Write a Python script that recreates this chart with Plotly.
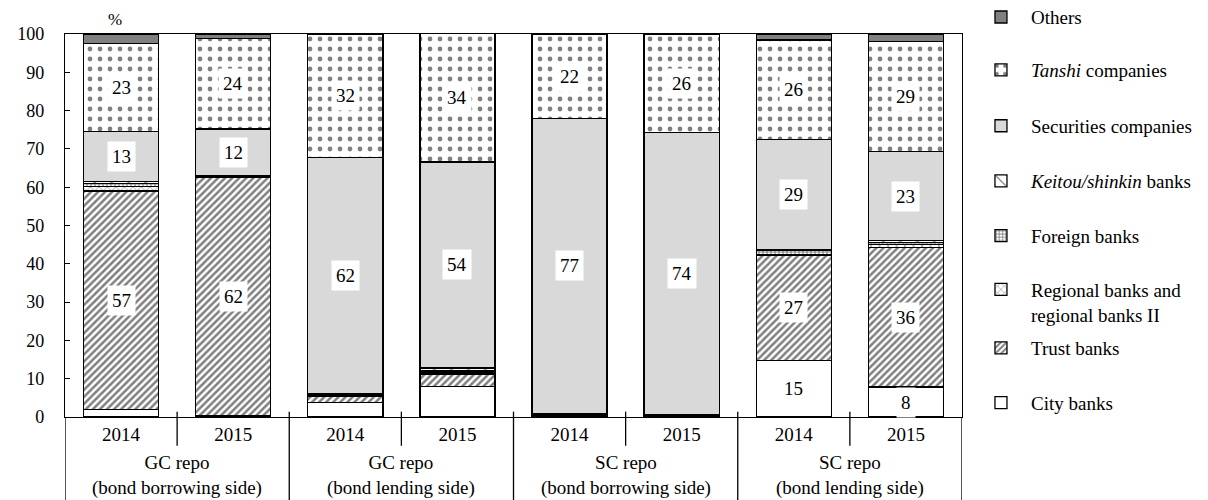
import plotly.graph_objects as go

years = ["2014", "2015", "2014", "2015", "2014", "2015", "2014", "2015"]
groups = ["GC repo<br>(bond borrowing side)", "GC repo<br>(bond lending side)",
          "SC repo<br>(bond borrowing side)", "SC repo<br>(bond lending side)"]

city = [2.0, 0.3, 3.7, 7.9, 0.4, 0.0, 14.8, 7.8]
trust = [57.0, 62.2, 1.7, 3.3, 0.2, 0.1, 27.4, 36.4]
regional = [1.2, 0.2, 0.3, 0.4, 0.0, 0.0, 0.3, 0.8]
foreign = [0.8, 0.2, 0.3, 0.4, 0.4, 0.4, 0.9, 0.5]
keitou = [0.5, 0.1, 0.0, 0.8, 0.0, 0.0, 0.2, 0.6]
securities = [13.0, 12.2, 61.8, 53.8, 77.0, 73.8, 28.8, 23.2]
tanshi = [23.0, 23.6, 32.2, 33.6, 22.0, 25.7, 26.0, 28.7]
others = [2.5, 1.2, 0.0, 0.0, 0.0, 0.0, 1.6, 2.0]

# which segments carry a value label
lab_city = [0, 0, 0, 0, 0, 0, 1, 1]
lab_trust = [1, 1, 0, 0, 0, 0, 1, 1]
lab_sec = [1, 1, 1, 1, 1, 1, 1, 1]
lab_tanshi = [1, 1, 1, 1, 1, 1, 1, 1]

FONT = "Liberation Serif"
FS = 19
x = list(range(len(years)))

series = [
    ("City banks", city, dict(color="white")),
    ("Trust banks", trust, dict(color="white", pattern=dict(shape="/", fgcolor="black", bgcolor="white", size=5, solidity=0.5))),
    ("Regional banks and<br>regional banks II", regional, dict(color="white", pattern=dict(shape="x", fgcolor="black", bgcolor="white", size=6, solidity=0.2))),
    ("Foreign banks", foreign, dict(color="white", pattern=dict(shape="+", fgcolor="black", bgcolor="white", size=4, solidity=0.5))),
    ("<i>Keitou/shinkin</i> banks", keitou, dict(color="white", pattern=dict(shape="\\", fgcolor="black", bgcolor="white", size=12, solidity=0.15))),
    ("Securities companies", securities, dict(color="#d9d9d9")),
    ("<i>Tanshi</i> companies", tanshi, dict(color="white", pattern=dict(shape=".", fgcolor="black", bgcolor="white", size=10, solidity=0.18))),
    ("Others", others, dict(color="#808080")),
]
# legend item vertical positions (paper coords), one legend per series
leg_y = [0.037, 0.180, 0.300, 0.473, 0.616, 0.760, 0.906, 1.044]

fig = go.Figure()
legends = {}
for i, (name, vals, m) in enumerate(series):
    lname = "legend" if i == 0 else f"legend{i + 1}"
    fig.add_trace(go.Bar(
        x=x, y=vals, name=name, legend=lname, showlegend=True,
        marker=dict(line=dict(color="black", width=1.3), **m),
        hoverinfo="y+name",
    ))
    legends[lname] = dict(x=1.01, xanchor="left", y=leg_y[i], yanchor="middle",
                          bgcolor="rgba(0,0,0,0)", font=dict(family=FONT, size=FS, color="black"),
                          itemwidth=50, valign="top")

# value labels
base = [0.0] * len(x)
ann = []
label_map = {0: lab_city, 1: lab_trust, 5: lab_sec, 6: lab_tanshi}
for i, (name, vals, m) in enumerate(series):
    for j, v in enumerate(vals):
        if i in label_map and label_map[i][j]:
            ann.append(dict(x=j, y=base[j] + v / 2, text=f"{v:.0f}", showarrow=False,
                            bgcolor="white", borderpad=4, font=dict(family=FONT, size=FS, color="black")))
        base[j] += v

# group labels
for g, txt in enumerate(groups):
    ann.append(dict(x=2 * g + 0.5, y=-0.152, xref="x", yref="paper", text=txt, showarrow=False,
                    yanchor="middle", font=dict(family=FONT, size=FS, color="black")))
ann.append(dict(x=-0.05, y=1.0, xref="x", yref="paper", text="%", showarrow=False, yanchor="bottom",
                yshift=3, font=dict(family=FONT, size=17, color="black")))

shapes = []
for k in range(len(x) + 1):
    xb = k - 0.5
    y0 = -0.217 if k % 2 == 0 else -0.075
    shapes.append(dict(type="line", xref="x", yref="paper", x0=xb, x1=xb, y0=0.014 if 0 < k < len(x) else 0,
                       y1=y0, line=dict(color="black", width=1.3)))

# the page body has an 8px margin, so the figure is sized to fit the window
fig.update_layout(
    width=1200, height=492,
    margin=dict(l=57, r=246, t=26, b=83, autoexpand=False),
    barmode="stack", bargap=0.33, showlegend=True,
    plot_bgcolor="white", paper_bgcolor="white",
    font=dict(family=FONT, size=FS, color="black"),
    annotations=ann, shapes=shapes,
    xaxis=dict(range=[-0.5, 7.5], tickvals=x, ticktext=years, showline=True, linecolor="black",
               linewidth=1.3, mirror=True, ticks="", showgrid=False, zeroline=False,
               tickfont=dict(family=FONT, size=FS), automargin=False),
    yaxis=dict(range=[0, 100], dtick=10, showline=True, linecolor="black", linewidth=1.3,
               mirror=True, ticks="inside", ticklen=5, tickcolor="black", showgrid=False,
               zeroline=False, ticklabelstandoff=16, tickfont=dict(family=FONT, size=18), automargin=False),
    **legends,
)

fig.write_html("out.html")
